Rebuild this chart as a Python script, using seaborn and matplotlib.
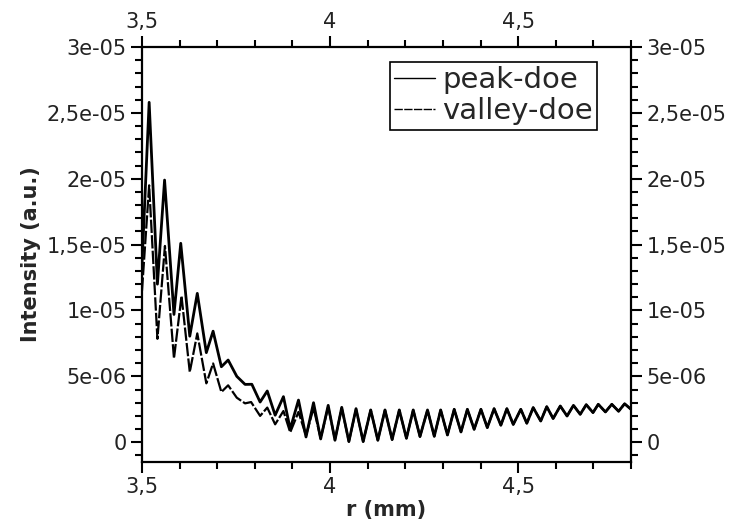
import matplotlib
matplotlib.use('Agg')
import matplotlib.pyplot as plt
import seaborn as sns
import pandas as pd

# extrema (r in mm, intensity in units of 1e-6 a.u.)
peak_r = [3.500, 3.519, 3.541, 3.560, 3.585, 3.603, 3.627, 3.647, 3.671, 3.689,
          3.711, 3.729, 3.752, 3.774, 3.792, 3.814, 3.833, 3.854, 3.876, 3.894,
          3.916, 3.936, 3.956, 3.975, 3.995, 4.013, 4.031, 4.050, 4.069, 4.088,
          4.108, 4.127, 4.146, 4.165, 4.184, 4.203, 4.221, 4.239, 4.259, 4.277,
          4.294, 4.312, 4.330, 4.348, 4.365, 4.383, 4.401, 4.418, 4.436, 4.454,
          4.470, 4.487, 4.507, 4.523, 4.540, 4.560, 4.576, 4.593, 4.612, 4.630,
          4.647, 4.665, 4.681, 4.699, 4.713, 4.732, 4.749, 4.767, 4.783, 4.800]
peak_i = [13.5, 25.8, 12.0, 19.9, 9.7, 15.1, 8.05, 11.3, 6.8, 8.43,
          5.73, 6.24, 5.0, 4.39, 4.4, 3.05, 3.89, 2.05, 3.46, 1.0,
          3.2, 0.4, 3.0, 0.25, 2.8, 0.15, 2.65, 0.05, 2.55, 0.05,
          2.45, 0.15, 2.45, 0.2, 2.45, 0.3, 2.45, 0.43, 2.45, 0.45,
          2.45, 0.55, 2.5, 0.78, 2.5, 0.98, 2.5, 1.11, 2.55, 1.29,
          2.55, 1.35, 2.5, 1.44, 2.63, 1.61, 2.7, 1.8, 2.75, 1.99,
          2.8, 2.12, 2.85, 2.25, 2.88, 2.3, 2.88, 2.35, 2.92, 2.5]

valley_r = [3.500, 3.519, 3.541, 3.561, 3.585, 3.605, 3.627, 3.647, 3.671, 3.689,
            3.711, 3.729, 3.752, 3.774, 3.790, 3.814, 3.833, 3.854, 3.876, 3.894,
            3.916, 3.936, 3.956, 3.975, 3.995, 4.013, 4.031, 4.050, 4.069, 4.088,
            4.108, 4.127, 4.146, 4.165, 4.184, 4.203, 4.221, 4.239, 4.259, 4.277,
            4.294, 4.312, 4.330, 4.348, 4.365, 4.383, 4.401, 4.418, 4.436, 4.454,
            4.470, 4.487, 4.507, 4.523, 4.540, 4.560, 4.576, 4.593, 4.612, 4.630,
            4.647, 4.665, 4.681, 4.699, 4.713, 4.732, 4.749, 4.767, 4.783, 4.800]
valley_i = [11.5, 19.5, 7.85, 14.9, 6.36, 11.1, 5.33, 8.26, 4.47, 5.98,
            3.81, 4.32, 3.38, 2.95, 3.05, 2.0, 2.63, 1.36, 2.37, 0.75,
            2.3, 0.5, 2.6, 0.3, 2.7, 0.2, 2.6, 0.05, 2.5, 0.05,
            2.45, 0.15, 2.45, 0.2, 2.45, 0.3, 2.45, 0.43, 2.45, 0.45,
            2.45, 0.55, 2.5, 0.78, 2.5, 0.98, 2.5, 1.11, 2.55, 1.29,
            2.55, 1.35, 2.5, 1.44, 2.63, 1.61, 2.7, 1.8, 2.75, 1.99,
            2.8, 2.12, 2.85, 2.25, 2.88, 2.3, 2.88, 2.35, 2.92, 2.5]

x_ticks = [3.5, 4.0, 4.5]
x_labels = ['3,5', '4', '4,5']
y_ticks = [0, 5e-6, 1e-5, 1.5e-5, 2e-5, 2.5e-5, 3e-5]
y_labels = ['0', '5e-06', '1e-05', '1,5e-05', '2e-05', '2,5e-05', '3e-05']

peak = pd.DataFrame({'r': peak_r, 'I': [v * 1e-6 for v in peak_i]})
valley = pd.DataFrame({'r': valley_r, 'I': [v * 1e-6 for v in valley_i]})

sns.set_theme(style='ticks')
plt.rcParams['font.family'] = ['DejaVu Sans']

fig = plt.figure(figsize=(7.33, 5.25), dpi=100)
ax = fig.add_axes([142 / 733, 1 - 462 / 525, (631 - 142) / 733, (462 - 47) / 525])

sns.lineplot(data=peak, x='r', y='I', ax=ax, color='black', lw=2.0,
             solid_joinstyle='round', label='peak-doe')
sns.lineplot(data=valley, x='r', y='I', ax=ax, color='black', lw=1.6,
             linestyle=(0, (6, 1)), dash_joinstyle='round', label='valley-doe')

ax.set_xlim(3.5, 4.8)
ax.set_ylim(-1.5e-6, 3e-5)
ax.set_xticks(x_ticks)
ax.set_xticklabels(x_labels)
ax.set_yticks(y_ticks)
ax.set_yticklabels(y_labels)
ax.xaxis.set_minor_locator(matplotlib.ticker.MultipleLocator(0.1))
ax.yaxis.set_minor_locator(matplotlib.ticker.MultipleLocator(1e-6))

for s in ax.spines.values():
    s.set_linewidth(1.6)
    s.set_color('black')
ax.tick_params(which='both', direction='out', top=True, right=True,
               labeltop=True, labelright=True, width=1.5, color='black',
               labelsize=15, labelcolor='#222222', pad=3)
ax.tick_params(which='major', length=8)
ax.tick_params(which='minor', length=5)

ax.set_xlabel('r (mm)', fontsize=15, fontweight='bold', labelpad=2)
ax.set_ylabel('Intensity (a.u.)', fontsize=15, fontweight='bold', labelpad=4)

leg = ax.legend(loc='upper right', bbox_to_anchor=(597 / 733, 1 - 62 / 525),
                bbox_transform=fig.transFigure, borderaxespad=0, frameon=True,
                fancybox=False, edgecolor='black', framealpha=1, fontsize=21,
                handlelength=1.4, handletextpad=0.25, borderpad=0.15, labelspacing=0.1)
leg.get_frame().set_linewidth(1.2)
for h in leg.get_lines():
    h.set_linewidth(1.0)

fig.savefig('out.png', dpi=100)
